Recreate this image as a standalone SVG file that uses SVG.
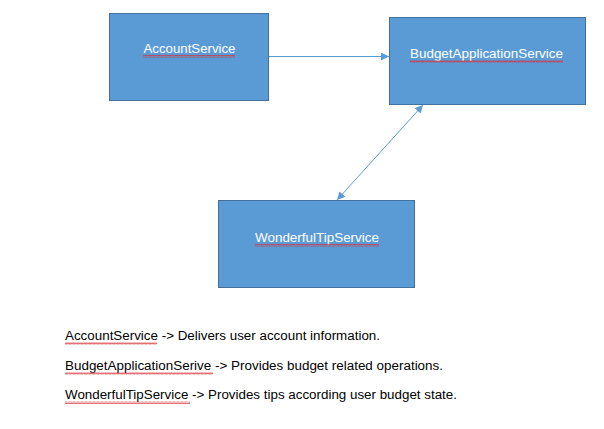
<svg xmlns="http://www.w3.org/2000/svg" width="604" height="429" viewBox="0 0 604 429">
<style>
.box{fill:#5b9bd5;stroke:#41719c;stroke-width:1}
.lbl{font-family:"Liberation Sans",Arial,sans-serif;font-size:12.5px;fill:#ffffff}
.desc{font-family:"Liberation Sans",Arial,sans-serif;font-size:12.5px;fill:#000000}
.conn{stroke:#5b9bd5;stroke-width:1;fill:none}
.sq{stroke:#d9303a;stroke-width:0.8;fill:none}
</style>
<defs>
<marker id="ah" viewBox="0 0 10 10" refX="10" refY="5" markerWidth="8" markerHeight="8" orient="auto-start-reverse" markerUnits="userSpaceOnUse">
<path d="M0,0 L10,5 L0,10 z" fill="#5b9bd5"/>
</marker>
<pattern id="wave" width="4" height="3" patternUnits="userSpaceOnUse">
<path d="M0,2.5 L1,0.5 L2,2.5 L3,0.5 L4,2.5" stroke="#d9303a" stroke-width="0.7" fill="none"/>
</pattern>
</defs>
<rect width="604" height="429" fill="#ffffff"/>
<g id="connectors">
<line class="conn" x1="268.5" y1="56.5" x2="389" y2="56.5" marker-end="url(#ah)"/>
<line class="conn" x1="337" y1="200" x2="423" y2="105" marker-start="url(#ah)" marker-end="url(#ah)"/>
</g>
<g id="AccountService">
<rect class="box" x="109.5" y="13.5" width="159" height="87"/>
<text class="lbl" x="143.5" y="53" textLength="92" lengthAdjust="spacingAndGlyphs">AccountService</text>
<rect x="143" y="55" width="92" height="3" fill="url(#wave)"/>
</g>
<g id="BudgetApplicationService">
<rect class="box" x="389.5" y="17.5" width="196" height="87"/>
<text class="lbl" x="410" y="58" textLength="153" lengthAdjust="spacingAndGlyphs">BudgetApplicationService</text>
<rect x="410" y="60" width="153" height="3" fill="url(#wave)"/>
</g>
<g id="WonderfulTipService">
<rect class="box" x="218.5" y="200.5" width="196" height="87"/>
<text class="lbl" x="255" y="242" textLength="124" lengthAdjust="spacingAndGlyphs">WonderfulTipService</text>
<rect x="255" y="244" width="124" height="3" fill="url(#wave)"/>
</g>
<g id="descriptions">
<text class="desc" x="65" y="340" textLength="315" lengthAdjust="spacingAndGlyphs">AccountService -&gt; Delivers user account information.</text>
<rect x="65" y="342" width="92" height="3" fill="url(#wave)"/>
<text class="desc" x="65" y="370" textLength="378" lengthAdjust="spacingAndGlyphs">BudgetApplicationSerive -&gt; Provides budget related operations.</text>
<rect x="65" y="372" width="148" height="3" fill="url(#wave)"/>
<text class="desc" x="65" y="399" textLength="392" lengthAdjust="spacingAndGlyphs">WonderfulTipService -&gt; Provides tips according user budget state.</text>
<rect x="65" y="401" width="125" height="3" fill="url(#wave)"/>
</g>
</svg>
